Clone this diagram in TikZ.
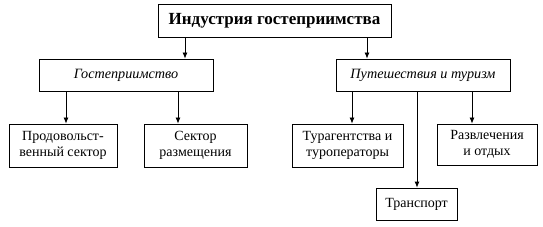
\documentclass[tikz,border=0pt]{standalone}
\usepackage{fontspec}
\setmainfont{Liberation Serif}
\usetikzlibrary{arrows.meta}
\begin{document}
\begin{tikzpicture}[x=1pt,y=-1pt,
  box/.style={draw,line width=0.8pt,inner sep=0pt,align=center,font=\fontsize{14}{15.5}\selectfont},
  arr/.style={line width=0.8pt,-{Latex[length=6pt,width=5pt]}}]
\useasboundingbox (0,0) rectangle (543,227);
\node[box,minimum width=233pt,minimum height=33pt,font=\fontsize{17}{19}\selectfont\bfseries] (top) at (274.5,20.5) {Индустрия гостеприимства};
\node[box,minimum width=174pt,minimum height=32pt,font=\fontsize{14.2}{15}\selectfont\itshape] (gost) at (126,75) {Гостеприимство};
\node[box,minimum width=174pt,minimum height=32pt,font=\fontsize{14.2}{15}\selectfont\itshape] (put) at (423,75) {Путешествия и туризм};
\node[box,minimum width=108pt,minimum height=43pt] (prod) at (63,145.5) {Продовольст-\\венный сектор};
\node[box,minimum width=103pt,minimum height=43pt] (sekt) at (195.5,145.5) {Сектор\\размещения};
\node[box,minimum width=111pt,minimum height=43pt] (tur) at (347.5,145.5) {Турагентства и\\туроператоры};
\node[box,minimum width=100pt,minimum height=41pt] (razv) at (487,144.5) {Развлечения\\и отдых};
\node[box,minimum width=81pt,minimum height=32pt] (trans) at (416.5,204) {Транспорт};
\coordinate (x1) at (185,0);
\coordinate (x2) at (367,0);
\coordinate (x3) at (66,0);
\coordinate (x4) at (178,0);
\coordinate (x5) at (352,0);
\coordinate (x6) at (417,0);
\coordinate (x7) at (472,0);
\draw[arr] (top.south -| x1) -- (gost.north -| x1);
\draw[arr] (top.south -| x2) -- (put.north -| x2);
\draw[arr] (gost.south -| x3) -- (prod.north -| x3);
\draw[arr] (gost.south -| x4) -- (sekt.north -| x4);
\draw[arr] (put.south -| x5) -- (tur.north -| x5);
\draw[arr] (put.south -| x6) -- (trans.north -| x6);
\draw[arr] (put.south -| x7) -- (razv.north -| x7);
\end{tikzpicture}
\end{document}
